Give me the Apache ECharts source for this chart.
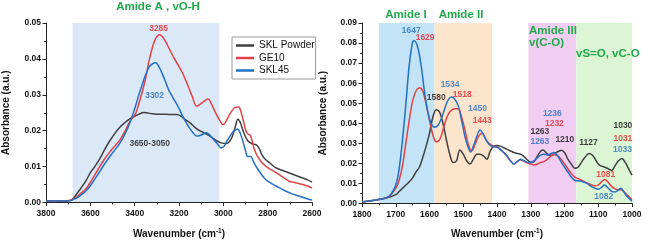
<!DOCTYPE html>
<html><head><meta charset="utf-8">
<script src="https://cdn.jsdelivr.net/npm/echarts@6/dist/echarts.min.js"></script>
<style>html,body{margin:0;padding:0;background:#fff}#c{width:657px;height:244px}</style>
</head><body><div id="c"></div>
<script>
// ---------- DATA ----------
const seriesNames = ['SKL Powder', 'GE10', 'SKL45'];
const leftXTicks = [2600, 2800, 3000, 3200, 3400, 3600, 3800];
const leftYTicks = [0, 0.01, 0.02, 0.03, 0.04, 0.05];
const rightXTicks = [1000, 1100, 1200, 1300, 1400, 1500, 1600, 1700, 1800];
const rightYTicks = [0, 0.01, 0.02, 0.03, 0.04, 0.05, 0.06, 0.07, 0.08, 0.09];

// Left panel (3800-2600 cm-1)
const leftSKLPowder = [[3800,0.0004],[3760,0.0005],[3720,0.0003],[3690,0.0006],[3676,0.0012],[3660,0.0025],[3646,0.0037],[3620,0.006],[3601,0.0082],[3580,0.0100],[3557,0.0122],[3535,0.0148],[3512,0.0172],[3490,0.0192],[3468,0.0209],[3445,0.0222],[3424,0.0232],[3400,0.0240],[3380,0.0246],[3360,0.0251],[3340,0.0249],[3320,0.0247],[3300,0.0246],[3270,0.0246],[3240,0.0245],[3210,0.0245],[3190,0.0240],[3170,0.0230],[3150,0.0222],[3120,0.0205],[3100,0.0198],[3075,0.0190],[3050,0.0181],[3030,0.0172],[3010,0.0166],[2990,0.0164],[2975,0.0168],[2960,0.0183],[2945,0.0213],[2935,0.0232],[2925,0.0225],[2905,0.0190],[2890,0.0172],[2875,0.0165],[2860,0.0162],[2850,0.0160],[2838,0.0150],[2825,0.0132],[2810,0.0120],[2790,0.0110],[2764,0.0097],[2735,0.0090],[2705,0.0083],[2675,0.0076],[2646,0.0069],[2620,0.0063],[2600,0.0057]];
const leftGE10 = [[3800,0.0004],[3760,0.0005],[3720,0.0004],[3690,0.0006],[3676,0.001],[3660,0.0016],[3646,0.0024],[3620,0.0038],[3601,0.0055],[3580,0.0077],[3557,0.0101],[3535,0.0122],[3512,0.0141],[3490,0.0157],[3468,0.0173],[3445,0.0197],[3424,0.0223],[3410,0.0235],[3394,0.0250],[3380,0.0278],[3364,0.0312],[3350,0.0348],[3335,0.0395],[3320,0.0432],[3305,0.0457],[3288,0.0467],[3270,0.0458],[3246,0.0431],[3225,0.0405],[3201,0.0380],[3185,0.0362],[3164,0.0332],[3140,0.0295],[3120,0.0268],[3098,0.0277],[3080,0.0285],[3068,0.0288],[3055,0.0276],[3039,0.0255],[3020,0.0233],[3002,0.0217],[2990,0.0224],[2972,0.0245],[2950,0.0264],[2935,0.0266],[2928,0.0265],[2913,0.0236],[2898,0.0200],[2888,0.0190],[2880,0.0189],[2870,0.0172],[2861,0.0150],[2845,0.0128],[2824,0.0110],[2795,0.0095],[2764,0.0084],[2735,0.0072],[2705,0.0060],[2675,0.0055],[2646,0.0051],[2620,0.0046],[2600,0.0040]];
const leftSKL45 = [[3800,0.0004],[3760,0.0005],[3720,0.0004],[3690,0.0005],[3676,0.0009],[3660,0.0013],[3646,0.0019],[3620,0.0032],[3601,0.0046],[3580,0.0065],[3557,0.0087],[3535,0.0108],[3512,0.0128],[3490,0.0146],[3468,0.0164],[3445,0.0189],[3424,0.0218],[3410,0.0242],[3394,0.0273],[3380,0.0302],[3364,0.0332],[3350,0.0357],[3335,0.0377],[3320,0.0386],[3305,0.0389],[3290,0.0378],[3276,0.0359],[3260,0.0335],[3246,0.0313],[3230,0.0295],[3216,0.0280],[3200,0.0262],[3187,0.0245],[3170,0.0225],[3150,0.0205],[3135,0.0193],[3120,0.0185],[3100,0.0188],[3076,0.0194],[3060,0.0187],[3046,0.0177],[3025,0.0162],[3009,0.0152],[2995,0.0158],[2987,0.0168],[2970,0.0185],[2957,0.0196],[2935,0.0205],[2925,0.0195],[2913,0.0173],[2900,0.0145],[2890,0.0128],[2876,0.0128],[2865,0.0115],[2853,0.0101],[2830,0.0080],[2809,0.0064],[2780,0.0052],[2750,0.0042],[2720,0.0032],[2690,0.0024],[2650,0.0016],[2620,0.0010],[2600,0.0007]];

// Right panel (1800-1000 cm-1)
const rightSKLPowder = [[1800,0.0008],[1750,0.002],[1720,0.0031],[1700,0.0044],[1690,0.006],[1680,0.0076],[1670,0.0092],[1660,0.0108],[1650,0.0128],[1640,0.0157],[1630,0.0181],[1620,0.0229],[1610,0.0286],[1600,0.035],[1590,0.0431],[1580,0.0467],[1570,0.0456],[1560,0.0399],[1550,0.0318],[1540,0.0246],[1530,0.0205],[1520,0.0213],[1510,0.0267],[1500,0.0246],[1490,0.0213],[1480,0.0197],[1470,0.0221],[1460,0.0246],[1450,0.0246],[1440,0.0237],[1430,0.0221],[1420,0.0262],[1410,0.0286],[1400,0.0289],[1390,0.0286],[1380,0.0278],[1370,0.027],[1360,0.0262],[1350,0.0254],[1340,0.0249],[1330,0.0246],[1320,0.0234],[1310,0.0218],[1300,0.0205],[1290,0.021],[1280,0.0237],[1270,0.0262],[1263,0.0267],[1255,0.0254],[1245,0.0241],[1235,0.0241],[1225,0.0254],[1215,0.0262],[1210,0.0265],[1200,0.0254],[1190,0.0221],[1180,0.0197],[1170,0.0176],[1160,0.0181],[1150,0.0205],[1140,0.0229],[1127,0.0249],[1115,0.0237],[1100,0.0197],[1090,0.0186],[1080,0.0181],[1070,0.0173],[1060,0.0165],[1050,0.0189],[1040,0.0213],[1030,0.0225],[1020,0.0205],[1010,0.0173],[1000,0.0141]];
const rightGE10 = [[1800,0.0008],[1750,0.002],[1720,0.0036],[1700,0.0076],[1690,0.0116],[1680,0.0189],[1670,0.0302],[1660,0.0415],[1650,0.0512],[1640,0.0561],[1629,0.0577],[1620,0.0561],[1610,0.0496],[1600,0.0415],[1590,0.0342],[1580,0.0307],[1570,0.0318],[1560,0.0367],[1550,0.0423],[1540,0.0456],[1525,0.0472],[1515,0.0472],[1505,0.0431],[1495,0.0367],[1485,0.0294],[1475,0.0262],[1465,0.0294],[1455,0.0334],[1443,0.035],[1435,0.0326],[1425,0.0302],[1410,0.0286],[1400,0.0283],[1390,0.027],[1380,0.0254],[1370,0.0234],[1360,0.0213],[1350,0.0197],[1340,0.0208],[1330,0.0218],[1320,0.021],[1310,0.0202],[1300,0.0197],[1290,0.0192],[1280,0.0197],[1270,0.0205],[1260,0.021],[1250,0.0221],[1240,0.0237],[1232,0.0246],[1220,0.0237],[1210,0.0221],[1200,0.0197],[1190,0.0173],[1180,0.0149],[1170,0.0132],[1160,0.0124],[1150,0.0116],[1140,0.0108],[1130,0.01],[1120,0.0092],[1110,0.0089],[1100,0.0092],[1090,0.0108],[1081,0.012],[1070,0.0105],[1060,0.0084],[1050,0.0073],[1040,0.0068],[1031,0.0068],[1020,0.0052],[1010,0.0036],[1000,0.0019]];
const rightSKL45 = [[1800,0.0008],[1750,0.002],[1720,0.0036],[1700,0.0092],[1690,0.0173],[1680,0.0318],[1670,0.0496],[1660,0.069],[1650,0.0806],[1645,0.0811],[1635,0.0779],[1625,0.069],[1615,0.056],[1605,0.0456],[1595,0.0399],[1585,0.038],[1575,0.039],[1565,0.0423],[1555,0.0472],[1545,0.0515],[1535,0.0531],[1525,0.052],[1515,0.0488],[1505,0.0415],[1495,0.0334],[1485,0.0278],[1478,0.0257],[1470,0.0286],[1460,0.0334],[1450,0.0367],[1440,0.0342],[1430,0.031],[1420,0.0289],[1410,0.0283],[1400,0.0281],[1390,0.027],[1380,0.0254],[1370,0.0237],[1360,0.0213],[1350,0.0197],[1340,0.021],[1330,0.0221],[1320,0.0213],[1310,0.0205],[1300,0.0205],[1290,0.0213],[1280,0.0229],[1270,0.0241],[1263,0.0246],[1250,0.0242],[1240,0.0249],[1232,0.0254],[1220,0.0237],[1210,0.0208],[1200,0.0181],[1190,0.0157],[1180,0.0132],[1170,0.0116],[1160,0.0113],[1150,0.0111],[1140,0.0105],[1130,0.0097],[1120,0.0084],[1110,0.0076],[1100,0.0071],[1090,0.0081],[1082,0.0092],[1070,0.0076],[1060,0.006],[1050,0.0057],[1040,0.0068],[1033,0.0076],[1025,0.006],[1015,0.0036],[1000,0.0011]];

// Shaded spectral regions [from, to, top, colour]
const leftBands = [[3680, 3018, 0.0525, '#dbe8f8']];
const rightBands = [[1750, 1585, 0.09, '#c3e4f6'], [1585, 1415, 0.09, '#fde5cd'], [1307, 1165, 0.09, '#f1cdf1'], [1165, 977, 0.09, '#dcf5d4']];

// Peak annotations [text, wavenumber, absorbance, series index]
const leftPeakLabels = [['3285', 3292, 0.0484, 1], ['3302', 3310, 0.0297, 2], ['3650-3050', 3332, 0.0165, 0]];
const rightPeakLabels = [
  ['1647', 1654, 0.0864, 2], ['1629', 1613, 0.0825, 1], ['1580', 1580, 0.0529, 0],
  ['1534', 1539, 0.0592, 2], ['1518', 1503, 0.0544, 1], ['1450', 1458, 0.0471, 2],
  ['1443', 1444, 0.0413, 1], ['1236', 1236, 0.0447, 2], ['1232', 1230, 0.0398, 1],
  ['1263', 1273, 0.0357, 0], ['1263', 1273, 0.0306, 2], ['1210', 1199, 0.0320, 0],
  ['1127', 1129, 0.0301, 0], ['1030', 1027, 0.0388, 0], ['1031', 1027, 0.0322, 1],
  ['1033', 1028, 0.0267, 2], ['1081', 1078, 0.0142, 1], ['1082', 1084, 0.0035, 2]
];

// Region titles [text, x, y, align]
const regionTitles = [
  ['Amide A , vO-H', 158, 7, 'center'], ['Amide I', 406, 15, 'center'], ['Amide II', 461, 15, 'center'],
  ['Amide III', 529, 31, 'left'], ['v(C-O)', 529, 43, 'left'], ['vS=O, vC-O', 576, 54, 'left']
];

// ---------- STYLE ----------
const lineColors = ['#404040', '#e24246', '#2470c4'];
const labelColors = ['#111111', '#e0262c', '#2a6fc0'];
const green = '#1faa4a';
const FONT = 'Liberation Sans, Arial, sans-serif';

const chart = echarts.init(document.getElementById('c'), null, { renderer: 'canvas' });

function xAxisFor(ticks, gridIndex, nameGap) {
  return {
    type: 'value', gridIndex, inverse: true,
    min: ticks[0], max: ticks[ticks.length - 1], interval: ticks[1] - ticks[0],
    name: 'Wavenumber (cm{sup|-1})', nameLocation: 'middle', nameGap,
    nameTextStyle: { fontFamily: FONT, fontSize: 10, fontWeight: 'bold', color: '#111',
      rich: { sup: { fontFamily: FONT, fontSize: 6.5, fontWeight: 'bold', color: '#111', verticalAlign: 'top', padding: [0, 0, 6, 0] } } },
    axisLine: { show: true, onZero: false, lineStyle: { color: '#222', width: 1 } },
    axisTick: { show: true, inside: false, length: 3.5, lineStyle: { color: '#222' } },
    minorTick: { show: true, splitNumber: 2, length: 2, lineStyle: { color: '#222' } },
    axisLabel: { fontFamily: FONT, fontSize: 8.5, fontWeight: 'bold', color: '#111', margin: 7,
      formatter: v => String(v) },
    splitLine: { show: false }
  };
}
function yAxisFor(ticks, gridIndex, nameGap) {
  return {
    type: 'value', gridIndex,
    min: ticks[0], max: ticks[ticks.length - 1], interval: ticks[1] - ticks[0],
    name: 'Absorbance (a.u.)', nameLocation: 'middle', nameGap,
    nameTextStyle: { fontFamily: FONT, fontSize: 10, fontWeight: 'bold', color: '#111' },
    axisLine: { show: true, onZero: false, lineStyle: { color: '#222', width: 1 } },
    axisTick: { show: true, inside: false, length: 3.5, lineStyle: { color: '#222' } },
    minorTick: { show: true, splitNumber: 2, length: 2, lineStyle: { color: '#222' } },
    axisLabel: { fontFamily: FONT, fontSize: 8.5, fontWeight: 'bold', color: '#111', margin: 5,
      formatter: v => v.toFixed(2) },
    splitLine: { show: false }
  };
}
function bandSeries(bands, idx) {
  return {
    type: 'line', name: 'bands' + idx, xAxisIndex: idx, yAxisIndex: idx, data: [], z: 0,
    clip: false, silent: true, symbol: 'none',
    markArea: { silent: true, z: 0,
      data: bands.map(b => [{ xAxis: b[0], yAxis: 0, itemStyle: { color: b[3] } }, { xAxis: b[1], yAxis: b[2] }]) }
  };
}
function specSeries(data, i, idx) {
  return {
    type: 'line', name: seriesNames[i], xAxisIndex: idx, yAxisIndex: idx, data,
    symbol: 'none', smooth: 0.35, z: 3,
    lineStyle: { color: lineColors[i], width: 1.5 }, itemStyle: { color: lineColors[i] }
  };
}
function labelSeries(labels, idx) {
  return {
    type: 'scatter', name: 'labels' + idx, xAxisIndex: idx, yAxisIndex: idx, z: 5, silent: true,
    symbolSize: 0,
    data: labels.map(l => ({ value: [l[1], l[2]], name: l[0],
      label: { show: true, position: 'inside', formatter: l[0], color: labelColors[l[3]],
        fontFamily: FONT, fontSize: 8.5, fontWeight: 'bold' } }))
  };
}

const option = {
  backgroundColor: '#ffffff',
  animation: false,
  grid: [
    { left: 42, top: 23, width: 270, height: 184, containLabel: false },
    { left: 362, top: 23, width: 270, height: 186, containLabel: false }
  ],
  xAxis: [xAxisFor(leftXTicks, 0, 25), xAxisFor(rightXTicks, 1, 24)],
  yAxis: [yAxisFor(leftYTicks, 0, 35), yAxisFor(rightYTicks, 1, 34)],
  legend: {
    data: seriesNames, orient: 'vertical', left: 232, top: 37,
    icon: 'rect', itemWidth: 18, itemHeight: 2.5, itemGap: 1.5,
    padding: [3, 1, 3, 4], borderColor: '#999', borderWidth: 1, borderRadius: 0,
    backgroundColor: '#fff',
    textStyle: { fontFamily: FONT, fontSize: 10, color: '#111', lineHeight: 11 }
  },
  graphic: regionTitles.map(t => ({
    type: 'text', z: 100, zlevel: 0,
    style: { text: t[0], x: t[1], y: t[2], textAlign: t[3], textVerticalAlign: 'middle',
      fill: green, font: 'bold 11.5px ' + FONT }
  })),
  series: [
    bandSeries(leftBands, 0), bandSeries(rightBands, 1),
    specSeries(leftSKLPowder, 0, 0), specSeries(leftGE10, 1, 0), specSeries(leftSKL45, 2, 0),
    specSeries(rightSKLPowder, 0, 1), specSeries(rightGE10, 1, 1), specSeries(rightSKL45, 2, 1),
    labelSeries(leftPeakLabels, 0), labelSeries(rightPeakLabels, 1)
  ]
};
chart.setOption(option);
</script>
</body></html>
